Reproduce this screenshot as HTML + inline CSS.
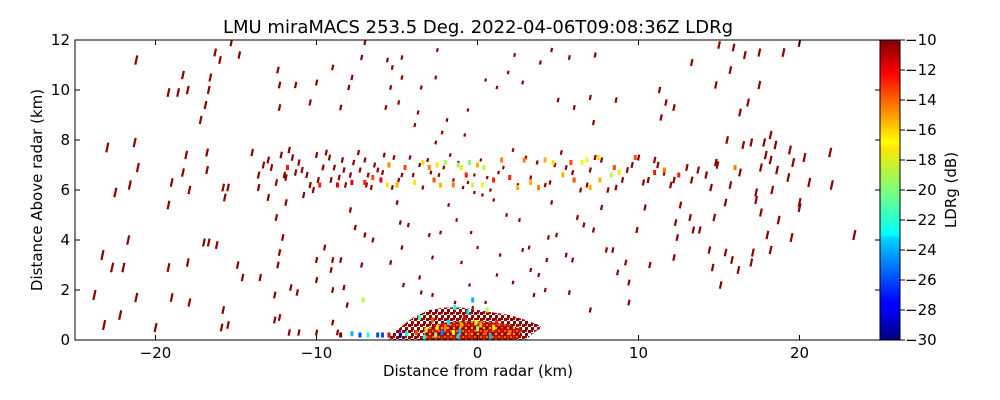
<!DOCTYPE html>
<html><head><meta charset="utf-8">
<style>
html,body{margin:0;padding:0;background:#fff;}
svg{display:block;font-family:"DejaVu Sans","Liberation Sans",sans-serif;}
</style></head>
<body>
<svg id="chart" width="1000" height="400" viewBox="0 0 1000 400">
<defs>
<linearGradient id="jet" x1="0" y1="1" x2="0" y2="0">
<stop offset="0" stop-color="#00007f"/><stop offset="0.11" stop-color="#0000ff"/>
<stop offset="0.125" stop-color="#0000ff"/><stop offset="0.34" stop-color="#00d4ff"/>
<stop offset="0.35" stop-color="#0ff"/><stop offset="0.5" stop-color="#7dff7a"/>
<stop offset="0.64" stop-color="#ffe600"/><stop offset="0.66" stop-color="#ff0"/>
<stop offset="0.89" stop-color="#f00"/><stop offset="1" stop-color="#7f0000"/>
</linearGradient>
<pattern id="speckOuter" width="6" height="6" patternUnits="userSpaceOnUse">
<rect width="6" height="6" fill="#fff"/>
<rect x="0" y="0" width="3" height="3" fill="#8b0000"/>
<rect x="3" y="3" width="3" height="3" fill="#8b0000"/>
<rect x="3" y="0" width="2" height="2" fill="#a00000"/>
</pattern>
<pattern id="speckCore" width="6" height="6" patternUnits="userSpaceOnUse">
<rect width="6" height="6" fill="#b01000"/>
<rect x="0" y="0" width="2" height="2" fill="#ff6000"/>
<rect x="3" y="3" width="2" height="2" fill="#ffb000"/>
<rect x="3" y="0" width="2" height="2" fill="#e02000"/>
<rect x="0" y="3" width="2" height="2" fill="#7f0000"/>
</pattern>
<clipPath id="pc"><rect x="75" y="40" width="805" height="300"/></clipPath>
</defs>
<text x="478" y="33" font-size="18" text-anchor="middle">LMU miraMACS 253.5 Deg. 2022-04-06T09:08:36Z  LDRg</text>
<g id="marks" clip-path="url(#pc)"></g>
<rect x="75" y="40" width="805" height="300" fill="none" stroke="#000" stroke-width="1"/>
<g id="axes"></g>
<rect x="880" y="40" width="20" height="300" fill="url(#jet)" stroke="#000" stroke-width="1"/>
<text x="956" y="190" font-size="15" text-anchor="middle" transform="rotate(-90 956 190)">LDRg (dB)</text>
<text x="478" y="376" font-size="15" text-anchor="middle">Distance from radar (km)</text>
<text x="42" y="190" font-size="15" text-anchor="middle" transform="rotate(-90 42 190)">Distance Above radar  (km)</text>
</svg>
<script>
const xTicks=[-20,-10,0,10,20];
const yTicks=[0,2,4,6,8,10,12];
const cTicks=[-10,-12,-14,-16,-18,-20,-22,-24,-26,-28,-30];
// far gates, all ~ -10 dB: [x km, y km]
const farX=[-21.2,-18.3,-19.2,-18.6,-18,-16.3,-16,-16.6,-16.7,-16.9,-17.2,-15.3,-14.8,-12.4,-12.3,-11.3,-10,-10.4,-12.3,-8.5,-9,-7.8,-8,-7.2,-7,-5.6,-5.3,-5.4,-4.7,-4.7,-4.9,-5.7,-3.5,-3.7,-2.5,-2.6,-3.9,-2.2,-1.9,-2.6,-0.8,-0.6,0.5,1.2,1.9,2.8,2.3,3.9,4.6,5.7,7.3,5,6,7,7.2,8.6,11.3,11.7,11.4,12.2,13.3,14.8,15.7,15.9,16.6,16.3,16.8,17.5,18.2,19,20,15,17.5,
-23.3,-22.7,-22,-19.2,-18,-23.8,-22.2,-21.2,-19,-17.9,-23.2,-20,-15.9,-15.5,-15.8,-17,-16.7,-16.2,-21.7,-14.9,-14.6,-13.5,-12.4,-12.6,-11.6,-11.2,-10,-10,-9.5,-9,-8.5,-9.1,-9,-8.3,-12.3,-12.1,-12.5,-12.3,-12.6,-11.1,-11.7,-10,-9,-8.7,-13,-11.9,-10.8,-7.6,-7,-6.5,-7.2,-8.1,-7.9,
1,1.8,2.6,2.8,3.2,3.3,4.4,4.3,4.6,4.9,5.5,5.9,6.2,6.6,7.2,7.7,8.4,8.7,8,9.2,9.4,9.9,10.4,12.3,12.4,12.2,13.2,13.4,14.4,14.6,14.7,15.4,15.8,17,17.3,17.6,18,18.2,18.7,19.5,20,23.4,17.1,13.8,15.1,16.2,10.7,9.4,3.8,4.2,5.7,7,3.5,2.2,1.2,-0.5,-1,-2.8,-3.6,-2.8,-1.4,-0.3,0.5,-4.7,-5.4,-4.6,-3.5,-5,-4.8,-4.3,-3,-2.3,-1.8,-1.3,-0.4,0,1.4,-0.2,0.3,
-23,-22.5,-21.6,-21.1,-21.3,-19.2,-19,-18.3,-18.1,-17.9,-16.8,-16.8,-15.8,-15.7,-15.5,-14,-13.6,-13.6,-13.3,-13,-12.2,-11.7,-11.5,-12,-11.3,-10.9,-10.4,-9.9,-10,-9.4,-9.2,-8.9,-8.6,-8.3,-8.2,-7.7,-7.4,-7,-6.8,-6.6,-6.2,-5.8,-5.2,-4.9,-4.5,-4,-3.6,-3.1,-2.4,-1.7,-1.2,-0.6,0.2,0.8,1.3,2.2,3,3.3,4.2,4.8,5.2,5.9,6.4,7,7.7,8.6,9.3,10,10.6,11.2,11.6,12,12.6,13.3,13.7,14.5,14.8,15.4,15.7,16.3,17,17.9,18.6,19.3,19.4,18.3,19.6,20.3,20.6,21.9,22,20,17.3,17.8,18.5,16.5,15.5,14.9,17.6,18.2,
-12.8,-12.5,-11.9,-11.1,-10.6,-10.2,-9.6,-9.1,-8.4,-7.9,-7.3,-6.9,-6.4,-5.9,-5.3,-4.7,-4.2,-3.4,-2.9,-2.1,-1.5,-0.9,-0.2,0.6,1.6,2.5,3.7,4.5,5.5,6.8,7.3,8.1,9.0,9.6,10.3,11.0,12.2,13.0,14.2];
const farY=[11.2,10.6,9.9,9.9,10,11.5,11.2,10.5,10,9.4,8.8,11.9,11.4,10.8,10.2,10.2,10.3,9.5,9.3,9.3,10.9,10.5,10.1,11.3,11.9,11.2,10.9,10.1,11.3,10.5,9.5,9.3,10.1,9.1,11.6,10.5,8.6,8.3,8.8,7.9,8.2,9.2,10.4,10.1,10.7,10.3,11.4,11.1,11.6,11.3,11.4,9.6,9.3,9.7,8.7,9.6,10,9.5,8.9,9.3,11.1,10.2,10.8,11.7,11.4,9.1,9.5,10.2,8.2,11.5,11.9,11.8,11.5,
3.4,2.9,2.9,2.9,3.1,1.8,1,1.7,1.7,1.5,0.6,0.5,0.5,0.6,1.2,3.9,3.9,3.8,4,3,2.5,2.5,3,1.8,2.1,1.9,3.2,2.4,3.7,3.2,3.2,2.8,2,2.1,3.5,4.1,4.9,0.9,0.8,0.3,0.3,0.3,0.7,0.3,5.7,5.5,5.8,4.5,4.2,4,3,1.4,5.2,
5.6,5,4.8,3.6,3.7,2.8,4.1,3.2,5.5,4.2,3.4,3.2,4.9,4.6,4.4,5.3,3.6,2.7,3.6,3.1,2.3,4.4,5.3,4.7,4.1,3.3,4.9,4.4,3.6,2.9,4.9,3.5,3.2,3.1,5.6,5.1,4.2,3.6,4.8,4.1,5.3,4.2,3.5,4.4,2.2,2.8,3,1.5,2.6,2,1.9,1.2,1.8,2.3,2.6,2.2,3.1,3.3,2.5,1.8,1.5,1.3,1.5,3.7,3.1,2.2,1.9,5.5,4.7,4.6,4.2,4.3,5.4,4.8,4.3,3.7,3.4,5.9,5.8,
7.7,5.9,6.2,6.9,7.9,5.4,6.3,6.7,7.4,6,7.5,6.8,6.1,5.7,6.1,7.5,6.6,6.1,7,7.2,7.4,7.6,7.3,6.6,6.7,6.8,6.2,6.4,7.4,7.5,7.3,6.9,6.5,6.8,6.2,7.1,7.5,7.2,6.6,6.1,6.8,7.4,7.3,6.4,6.9,6.6,7,7.2,6.6,7.4,7.1,6.3,7.2,6,6.7,7.6,7.3,6.5,6.2,7,7.5,6.7,6,6.8,7.2,6.1,6.8,7.3,6.4,7,6.7,6.2,5.4,6.4,6.8,6.1,7.1,5.5,6.2,6.7,7.9,7.4,6.8,6.5,7.6,6,7.1,7.3,6.3,7.5,6.2,5.5,5.9,7.9,7.8,7.8,8,7,6.9,7.2,
6.9,6.3,6.5,7.1,6.6,6.0,6.9,6.4,7.2,6.6,6.8,6.2,7.0,6.7,6.1,6.6,7.3,6.1,6.7,6.9,6.4,6.1,6.6,6.5,6.9,6.2,7.1,6.3,6.9,6.2,7.3,6.0,6.4,7.0,6.3,7.2,6.4,6.9,6.6];
// coloured gates in the cloud layer and near ground
const colX=[-8.7,-7.8,-6.5,-5.6,-5.5,-4.5,-3.9,-3.4,-3,-2.7,-2.3,-2,-1.2,-1,-0.7,-0.3,0.4,0.3,1,1.5,2,2.5,2.9,3.3,3.8,4.2,4.7,5.3,5.8,6,6.5,6.8,7,7.5,7.6,8.3,8.5,8.8,9.8,11,11.6,12.5,16,-11.8,-9.8,-7,-6,-5,-1.5,0,-0.5,-2.5,
-8.5,-7.8,-7.3,-6.8,-6.2,-5.9,-5.5,-4.8,-4.4,-3.8,-3.2,-2.6,-2,-1.5,-1,-0.5,0,0.5,1,1.5,2,-2.8,-1.8,-0.8,0.2,1.2,-3.3,-2.2,-1.2,-0.1,0.8,-0.3,-1.4,-0.6,0.6,-2.5,-7.1,-1.1,-3.6];
const colY=[6.2,6.3,6.5,6.2,7,6.9,6.3,7.1,6.9,6.4,6.2,7.1,7,6.9,6.6,6.2,6.9,6.2,6.4,7.2,6.5,6.1,7.2,6.3,6.1,7.2,7.1,6.6,7.1,6.4,7.1,7.2,6.1,7.3,6.4,6.6,6.9,6.7,7.3,6.7,6.8,6.6,6.9,6.9,6.2,6.3,6.4,6.2,6.2,7,7.1,7,
0.2,0.25,0.2,0.2,0.2,0.2,0.2,0.2,0.25,0.3,0.4,0.2,0.5,0.3,0.6,0.2,0.45,0.3,0.5,0.4,0.3,0.8,0.7,0.9,0.6,0.7,0.1,0.3,0.15,0.7,0.15,1.6,1.3,1.1,1.2,0.5,1.6,0.35,0.9];
const colV=[-12,-12,-14,-17,-15,-14,-17,-17,-15,-14,-16,-19,-20,-17,-13,-19,-19,-18,-13,-15,-13,-16,-15,-16,-15,-16,-17,-16,-14,-14,-18,-18,-16,-17,-16,-19,-14,-17,-14,-13,-15,-13,-15,-13,-13,-13,-12,-16,-15,-16,-20,-17,
-10,-24,-26,-22,-26,-26,-12,-28,-22,-14,-17,-20,-15,-18,-16,-13,-20,-14,-17,-12,-15,-14,-23,-12,-16,-13,-22,-25,-23,-18,-24,-24,-22,-23,-19,-17,-19,-24,-21];
// ground clutter outline (km)
const clutX=[-5.5,-4.6,-4,-3,-2,-1,0,1,2,3,3.8,4,3.5,3];
const clutY=[0.15,0.6,0.9,1.2,1.3,1.3,1.2,1.1,1.0,0.8,0.6,0.5,0.3,0];
const coreX=[-3.6,-3,-2,-1,0,1,2,2.8,2.4];
const coreY=[0,0.5,0.7,0.75,0.75,0.7,0.6,0.4,0];

const NS='http://www.w3.org/2000/svg';
const X0=75,X1=880,Y0=340,Y1=40;
const sx=v=>X0+(v+25)/50*(X1-X0);
const sy=v=>Y0-v/12*(Y0-Y1);
const sc=v=>Y0-(v+30)/20*(Y0-Y1);
function jet(v){let t=(v+30)/20;t=Math.max(0,Math.min(1,t));
 const f=x=>Math.round(255*Math.max(0,Math.min(1,1.5-Math.abs(4*t-x))));
 return `rgb(${f(3)},${f(2)},${f(1)})`;}
const marks=document.getElementById('marks');
const axes=document.getElementById('axes');
function mk(tag,attrs,parent){const e=document.createElementNS(NS,tag);for(const k in attrs)e.setAttribute(k,attrs[k]);parent.appendChild(e);return e;}

let pts=clutX.map((x,i)=>sx(x)+','+sy(clutY[i])).join(' ')+' '+sx(-5.5)+','+sy(0);
let cl=mk('polygon',{points:pts,fill:'url(#speckOuter)'},marks);


let cp=coreX.map((x,i)=>sx(x)+','+sy(coreY[i])).join(' ');
let co=mk('polygon',{points:cp,fill:'url(#speckCore)'},marks);



farX.forEach((x,i)=>{const y=farY[i];const h=3+Math.abs(x)*0.3;
 const r=mk('rect',{x:sx(x)-1,y:sy(y)-h/2,width:2.2,height:h,fill:'#8b0000',transform:`rotate(12 ${sx(x)} ${sy(y)})`},marks);
 
 });
colX.forEach((x,i)=>{const y=colY[i];
 const r=mk('rect',{x:sx(x)-1.5,y:sy(y)-2.5,width:3,height:5,fill:jet(colV[i])},marks);
 
 });

xTicks.forEach(v=>{const x=sx(v);
 mk('line',{x1:x,x2:x,y1:Y0,y2:Y0-5,stroke:'#000'},axes);
 mk('line',{x1:x,x2:x,y1:Y1,y2:Y1+5,stroke:'#000'},axes);
 const t=mk('text',{x:x,y:358,'font-size':15,'text-anchor':'middle'},axes);
 t.textContent=v<0?'\u2212'+(-v):v;
 
 });
yTicks.forEach(v=>{const y=sy(v);
 mk('line',{x1:X0,x2:X0+5,y1:y,y2:y,stroke:'#000'},axes);
 mk('line',{x1:X1,x2:X1-5,y1:y,y2:y,stroke:'#000'},axes);
 const t=mk('text',{x:70,y:y+5,'font-size':15,'text-anchor':'end'},axes);
 t.textContent=v;
 
 });
cTicks.forEach(v=>{const y=sc(v);
 mk('line',{x1:900,x2:905,y1:y,y2:y,stroke:'#000'},axes);
 mk('line',{x1:880,x2:884,y1:y,y2:y,stroke:'#000'},axes);
 const t=mk('text',{x:905,y:y+5,'font-size':15},axes);
 t.textContent='\u2212'+(-v);
 
 });
</script>
</body></html>
